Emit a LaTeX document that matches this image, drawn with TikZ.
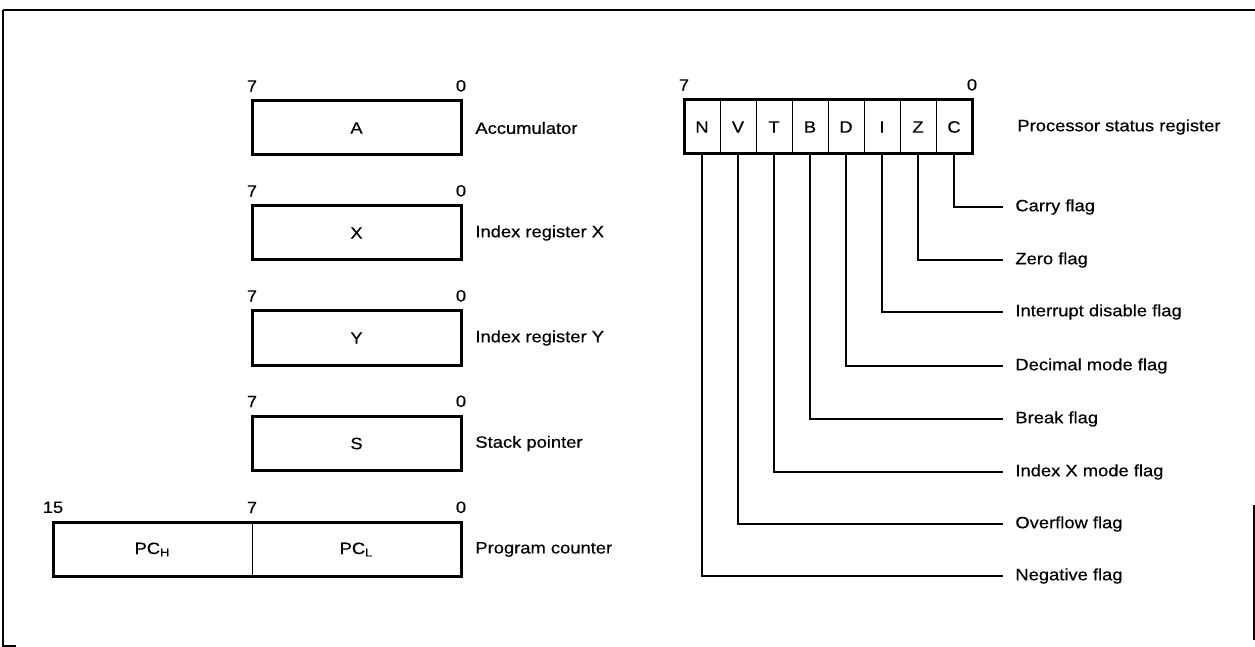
\documentclass[tikz,border=0pt]{standalone}
\usepackage{fontspec}
\setmainfont[FakeStretch=1.12, FakeBold=0.4]{Liberation Sans}
\usepackage{tikz}
\usetikzlibrary{positioning}
\newcommand{\labelfont}{\fontsize{8.2}{10}\selectfont}
\tikzset{
    regbox/.style={rectangle, draw=black, line width=1.5pt, minimum width=104.5pt, minimum height=27pt, inner sep=0pt, outer sep=0pt, font=\labelfont},
    halfbox/.style={rectangle, draw=black, line width=0.5pt, minimum width=#1, minimum height=27pt, inner sep=0pt, outer sep=0pt, font=\labelfont},
    flagcell/.style={rectangle, draw=black, line width=0.5pt, minimum width=18pt, minimum height=27pt, inner sep=0pt, outer sep=0pt, font=\labelfont},
    outline/.style={draw=black, line width=1.5pt},
    regname/.style={font=\labelfont, inner sep=3pt},
    bitnum/.style={font=\labelfont, inner sep=0pt},
    flagname/.style={font=\labelfont, anchor=west, inner xsep=6pt, inner ysep=2pt},
    flaglead/.style={draw=black, line width=0.6pt},
    framerule/.style={draw=black, line width=1.2pt}
}

\begin{document}
\begin{tikzpicture}[x=0.5pt, y=-0.5pt]
\useasboundingbox (0,0) rectangle (1255,647);

% scanned frame
\draw[framerule] (3,10) -- (1255,10);
\draw[framerule] (3,10) -- (3,646) -- (16,646);
\draw[framerule, line width=0.6pt] (1254,505) -- (1254,640);

% 8-bit registers
\node[regbox] (acc) at (356.5,128) {A};
\node[regbox] (idxx) at (356.5,233) {X};
\node[regbox] (idxy) at (356.5,338) {Y};
\node[regbox] (sp) at (356.5,443.5) {S};

% program counter
\node[halfbox=99.5pt] (pch) at (152.5,549.5) {PC\textsubscript{H}};
\node[halfbox=104.5pt, right=0pt of pch] (pcl) {PC\textsubscript{L}};
\draw[outline] (pch.north west) rectangle (pcl.south east);

\node[regname, right=4pt of acc] {Accumulator};
\node[regname, right=4pt of idxx] {Index register X};
\node[regname, right=4pt of idxy] {Index register Y};
\node[regname, right=4pt of sp] {Stack pointer};
\node[regname, right=4pt of pcl] {Program counter};

\node[bitnum, above=4.5pt] at (acc.north west) {7};
\node[bitnum, above=4.5pt] at (acc.north east) {0};
\node[bitnum, above=4.5pt] at (idxx.north west) {7};
\node[bitnum, above=4.5pt] at (idxx.north east) {0};
\node[bitnum, above=4.5pt] at (idxy.north west) {7};
\node[bitnum, above=4.5pt] at (idxy.north east) {0};
\node[bitnum, above=4.5pt] at (sp.north west) {7};
\node[bitnum, above=4.5pt] at (sp.north east) {0};
\node[bitnum, above=4.5pt] at (pch.north west) {15};
\node[bitnum, above=4.5pt] at (pcl.north west) {7};
\node[bitnum, above=4.5pt] at (pcl.north east) {0};

% processor status register
\node[flagcell] (n) at (702,127) {N};
\node[flagcell, right=0pt of n] (v) {V};
\node[flagcell, right=0pt of v] (t) {T};
\node[flagcell, right=0pt of t] (b) {B};
\node[flagcell, right=0pt of b] (d) {D};
\node[flagcell, right=0pt of d] (i) {I};
\node[flagcell, right=0pt of i] (z) {Z};
\node[flagcell, right=0pt of z] (c) {C};

\node[bitnum, above=4.5pt] at (n.north west) {7};
\node[bitnum, above=4.5pt] at (c.north east) {0};
\node[regname, right=19.5pt of c] {Processor status register};

\node[flagname] (cflag) at (1003,207) {Carry flag};
\node[flagname] (zflag) at (1003,260) {Zero flag};
\node[flagname] (iflag) at (1003,312) {Interrupt disable flag};
\node[flagname] (dflag) at (1003,366) {Decimal mode flag};
\node[flagname] (bflag) at (1003,419) {Break flag};
\node[flagname] (tflag) at (1003,472) {Index X mode flag};
\node[flagname] (vflag) at (1003,524) {Overflow flag};
\node[flagname] (nflag) at (1003,576) {Negative flag};

\draw[flaglead] (c) |- (cflag);
\draw[flaglead] (z) |- (zflag);
\draw[flaglead] (i) |- (iflag);
\draw[flaglead] (d) |- (dflag);
\draw[flaglead] (b) |- (bflag);
\draw[flaglead] (t) |- (tflag);
\draw[flaglead] (v) |- (vflag);
\draw[flaglead] (n) |- (nflag);

\draw[outline] (n.north west) rectangle (c.south east);

\end{tikzpicture}
\end{document}
